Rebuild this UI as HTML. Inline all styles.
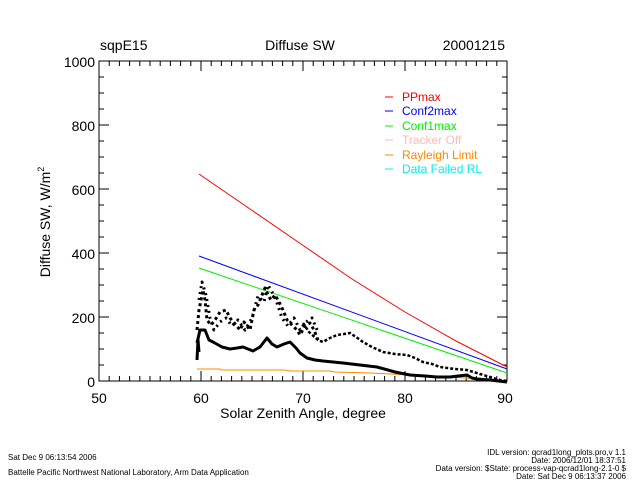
<!DOCTYPE html>
<html><head><meta charset="utf-8"><style>
html,body{margin:0;padding:0;background:#fff;}
svg{display:block;font-family:"Liberation Sans",sans-serif;}
</style></head><body>
<svg width="640" height="480" xmlns="http://www.w3.org/2000/svg">
<rect width="640" height="480" fill="#fff"/>
<g stroke="#000" stroke-width="1" fill="none">
<rect x="99" y="61" width="408" height="320"/>
<path d="M99 381v-10M109.2 381v-5M119.4 381v-5M129.6 381v-5M139.8 381v-5M150 381v-5M160.2 381v-5M170.4 381v-5M180.6 381v-5M190.8 381v-5M201 381v-10M211.2 381v-5M221.4 381v-5M231.6 381v-5M241.8 381v-5M252 381v-5M262.2 381v-5M272.4 381v-5M282.6 381v-5M292.8 381v-5M303 381v-10M313.2 381v-5M323.4 381v-5M333.6 381v-5M343.8 381v-5M354 381v-5M364.2 381v-5M374.4 381v-5M384.6 381v-5M394.8 381v-5M405 381v-10M415.2 381v-5M425.4 381v-5M435.6 381v-5M445.8 381v-5M456 381v-5M466.2 381v-5M476.4 381v-5M486.6 381v-5M496.8 381v-5M507 381v-10"/>
<path d="M99 61v10M109.2 61v5M119.4 61v5M129.6 61v5M139.8 61v5M150 61v5M160.2 61v5M170.4 61v5M180.6 61v5M190.8 61v5M201 61v10M211.2 61v5M221.4 61v5M231.6 61v5M241.8 61v5M252 61v5M262.2 61v5M272.4 61v5M282.6 61v5M292.8 61v5M303 61v10M313.2 61v5M323.4 61v5M333.6 61v5M343.8 61v5M354 61v5M364.2 61v5M374.4 61v5M384.6 61v5M394.8 61v5M405 61v10M415.2 61v5M425.4 61v5M435.6 61v5M445.8 61v5M456 61v5M466.2 61v5M476.4 61v5M486.6 61v5M496.8 61v5M507 61v10"/>
<path d="M99 381h10M99 365h5M99 349h5M99 333h5M99 317h10M99 301h5M99 285h5M99 269h5M99 253h10M99 237h5M99 221h5M99 205h5M99 189h10M99 173h5M99 157h5M99 141h5M99 125h10M99 109h5M99 93h5M99 77h5M99 61h10"/>
<path d="M507 381h-10M507 365h-5M507 349h-5M507 333h-5M507 317h-10M507 301h-5M507 285h-5M507 269h-5M507 253h-10M507 237h-5M507 221h-5M507 205h-5M507 189h-10M507 173h-5M507 157h-5M507 141h-5M507 125h-10M507 109h-5M507 93h-5M507 77h-5M507 61h-10"/>
</g>
<g font-size="14" fill="#000">
<text x="100" y="50">sqpE15</text>
<text x="300" y="50" text-anchor="middle">Diffuse SW</text>
<text x="505" y="50" text-anchor="end">20001215</text>
</g>
<g font-size="14" text-anchor="end" fill="#000">
<text x="95" y="387">0</text><text x="95" y="323">200</text><text x="95" y="259">400</text>
<text x="95" y="195">600</text><text x="95" y="131">800</text><text x="95" y="67">1000</text>
</g>
<g font-size="14" text-anchor="middle" fill="#000">
<text x="99" y="403">50</text><text x="201" y="403">60</text><text x="303" y="403">70</text>
<text x="405" y="403">80</text><text x="505" y="403">90</text>
<text x="303" y="418">Solar Zenith Angle, degree</text>
</g>
<text transform="translate(50,222) rotate(-90)" font-size="14" text-anchor="middle">Diffuse SW,  W/m<tspan font-size="9" dy="-6">2</tspan></text>
<g font-size="12">
<line x1="385" y1="97" x2="393" y2="97" stroke="#f00"/><text x="402" y="101" fill="#f00">PPmax</text>
<line x1="385" y1="111" x2="393" y2="111" stroke="#00f"/><text x="402" y="115" fill="#00f">Conf2max</text>
<line x1="385" y1="126" x2="393" y2="126" stroke="#0e0"/><text x="402" y="130" fill="#0e0">Conf1max</text>
<line x1="385" y1="140" x2="393" y2="140" stroke="#fbb"/><text x="402" y="144" fill="#fbb">Tracker Off</text>
<line x1="385" y1="155" x2="393" y2="155" stroke="#f80"/><text x="402" y="159" fill="#f80">Rayleigh Limit</text>
<line x1="385" y1="169" x2="393" y2="169" stroke="#0ee"/><text x="402" y="173" fill="#0ee">Data Failed RL</text>
</g>
<g fill="none" stroke-width="1">
<polyline stroke="#f00" points="199,174 250,209 301,244 352,279 405,312 456,341 507,367"/>
<polyline stroke="#00f" points="199,256 507,369"/>
<polyline stroke="#0e0" points="199,268 507,373"/>
<line x1="198" y1="369" x2="220" y2="369" stroke="#888"/>
<polyline stroke="#f80" points="197,369 220,369 221,370 285,370 290,371 330,371 335,372 370,373 410,375 450,377 480,379 507,381"/>
</g>
<g fill="none" stroke="#000" stroke-width="3" stroke-linejoin="round">
<polyline points="197,343 200,330 205,330 209,340 213,342 222,347 230,349 237,348 243,347 253,351 260,347 267,338 272,344 277,347 284,344 290,342 296,348 300,353 307,358 315,360 323,361 333,362 343,363 360,365 377,367 395,372 410,375 425,376 437,377 450,377 467,375 472,378 477,379 490,380 507,382"/>
<polyline points="197,360 198,340 199,352"/>
<polyline stroke-width="2.5" stroke-dasharray="3 2" points="303,323 309,332 318,340 323,342 330,338 337,335 344,334 350,333 356,337 363,342 372,347 383,352 395,354 407,355 415,358 423,362 432,364 440,367 455,369 467,370 480,374 490,377 500,380 507,381"/>
<polyline stroke-width="3" stroke-dasharray="3 3" points="197,330 199,310 203,290 205,300 207,320 211,325 215,320 220,312 226,310 230,318 236,325 240,330 244,322 250,330 254,310 258,305 262,295 265,288 268,295 271,300 275,295 278,300 283,310 287,320 292,325 297,330 300,335 305,326 310,323 314,330 318,340"/>
<polyline stroke-width="3" stroke-dasharray="2 4" points="199,300 202,282 206,295 210,318 214,330 220,322 226,318 232,326 238,320 245,330 252,318 258,296 264,302 268,285 272,292 276,300 282,318 288,326 294,318 300,330 306,322 312,318 318,332"/>
</g>
<g font-size="8" fill="#000">
<text x="8" y="460">Sat Dec  9 06:13:54 2006</text>
<text x="8" y="475">Battelle Pacific Northwest National Laboratory, Arm Data Application</text>
<text x="626" y="455" text-anchor="end">IDL version: qcrad1long_plots.pro,v 1.1</text>
<text x="626" y="463" text-anchor="end">Date: 2006/12/01 18:37:51</text>
<text x="626" y="471" text-anchor="end">Data version: $State: process-vap-qcrad1long-2.1-0 $</text>
<text x="626" y="479" text-anchor="end">Date: Sat Dec  9 06:13:37 2006</text>
</g>
</svg>
</body></html>
